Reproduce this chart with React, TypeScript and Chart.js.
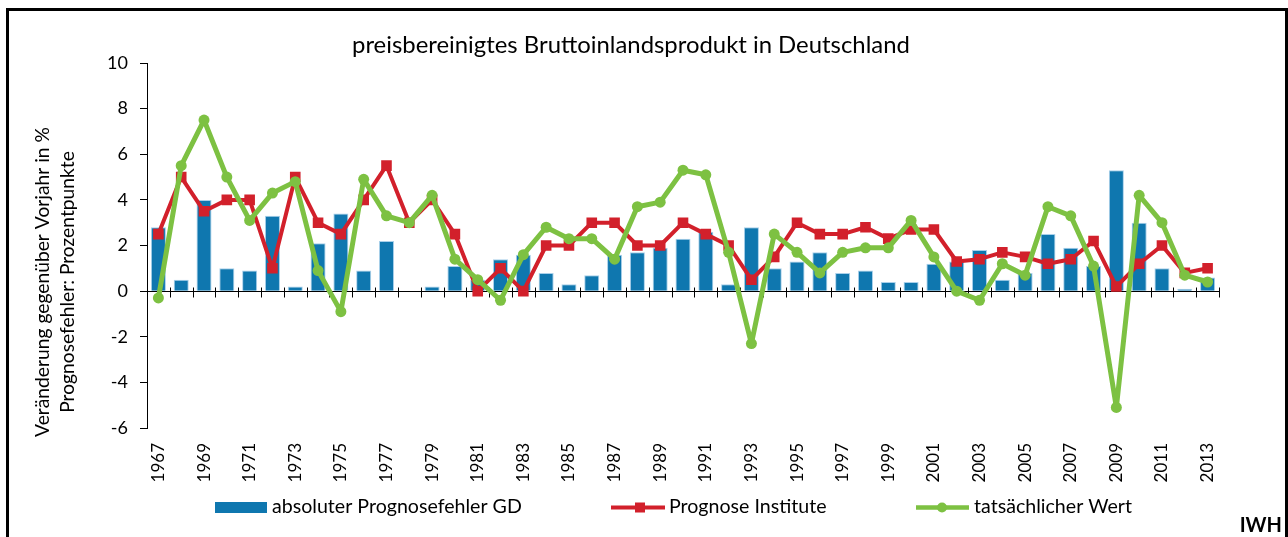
import React, { useEffect, useRef } from "react";
import { Chart, registerables } from "chart.js";

Chart.register(...registerables);

const years = [
  "1967", "1968", "1969", "1970", "1971", "1972", "1973", "1974", "1975", "1976",
  "1977", "1978", "1979", "1980", "1981", "1982", "1983", "1984", "1985", "1986",
  "1987", "1988", "1989", "1990", "1991", "1992", "1993", "1994", "1995", "1996",
  "1997", "1998", "1999", "2000", "2001", "2002", "2003", "2004", "2005", "2006",
  "2007", "2008", "2009", "2010", "2011", "2012", "2013",
];

const errorGD = [
  2.8, 0.5, 4.0, 1.0, 0.9, 3.3, 0.2, 2.1, 3.4, 0.9, 2.2, 0.0, 0.2,
  1.1, 0.5, 1.4, 1.6, 0.8, 0.3, 0.7, 1.6, 1.7, 1.9, 2.3, 2.6, 0.3,
  2.8, 1.0, 1.3, 1.7, 0.8, 0.9, 0.4, 0.4, 1.2, 1.3, 1.8, 0.5,
  0.8, 2.5, 1.9, 1.1, 5.3, 3.0, 1.0, 0.1, 0.6,
];

const forecastInstitutes = [
  2.5, 5.0, 3.5, 4.0, 4.0, 1.0, 5.0, 3.0, 2.5, 4.0, 5.5, 3.0, 4.0,
  2.5, 0.0, 1.0, 0.0, 2.0, 2.0, 3.0, 3.0, 2.0, 2.0, 3.0, 2.5, 2.0,
  0.5, 1.5, 3.0, 2.5, 2.5, 2.8, 2.3, 2.7, 2.7, 1.3, 1.4, 1.7,
  1.5, 1.2, 1.4, 2.2, 0.2, 1.2, 2.0, 0.8, 1.0,
];

const actualValue = [
  -0.3, 5.5, 7.5, 5.0, 3.1, 4.3, 4.8, 0.9, -0.9, 4.9, 3.3, 3.0, 4.2,
  1.4, 0.5, -0.4, 1.6, 2.8, 2.3, 2.3, 1.4, 3.7, 3.9, 5.3, 5.1, 1.7,
  -2.3, 2.5, 1.7, 0.8, 1.7, 1.9, 1.9, 3.1, 1.5, 0.0, -0.4, 1.2,
  0.7, 3.7, 3.3, 1.1, -5.1, 4.2, 3.0, 0.7, 0.4,
];

const yTicks = [-6, -4, -2, 0, 2, 4, 6, 8, 10];

const titleText = "preisbereinigtes Bruttoinlandsprodukt in Deutschland";
const yTitleLines = ["Veränderung gegenüber Vorjahr in %", "Prognosefehler: Prozentpunkte"];
const legendLabels = ["absoluter Prognosefehler GD", "Prognose Institute", "tatsächlicher Wert"];
const sourceText = "IWH";

const BLUE = "#0F77AF";
const RED = "#D2202B";
const GREEN = "#7DC142";
const FONT = "Lato";

function fitSize(ctx: CanvasRenderingContext2D, text: string, width: number, weight = "normal") {
  ctx.font = `${weight} 100px ${FONT}`;
  const w = ctx.measureText(text).width;
  return (100 * width) / w;
}

const customPlugin = {
  id: "customDecor",
  beforeDatasetsDraw(chart: any) {
    const { ctx, chartArea, scales } = chart;
    const y0 = Math.round(scales.y.getPixelForValue(0)) + 0.5;
    const n = years.length;
    ctx.save();
    ctx.strokeStyle = "#000";
    ctx.lineWidth = 1;
    ctx.beginPath();
    ctx.moveTo(chartArea.left, y0);
    ctx.lineTo(chartArea.right, y0);
    for (let i = 0; i <= n; i++) {
      const x = Math.round(chartArea.left + (i * (chartArea.right - chartArea.left)) / n) + 0.5;
      ctx.moveTo(x, y0 - 4);
      ctx.lineTo(x, y0 + 6);
    }
    ctx.stroke();
    ctx.restore();
  },
  afterDraw(chart: any) {
    const { ctx } = chart;
    ctx.save();
    ctx.fillStyle = "#000";

    // Title
    const ts = fitSize(ctx, titleText, 558);
    ctx.font = `normal ${ts}px ${FONT}`;
    ctx.textAlign = "left";
    ctx.textBaseline = "alphabetic";
    ctx.fillText(titleText, 352, 53);

    // Y axis title (two lines)
    const ys = fitSize(ctx, yTitleLines[0], 310);
    ctx.font = `normal ${ys}px ${FONT}`;
    ctx.textAlign = "center";
    ctx.textBaseline = "middle";
    const xs = [43, 68];
    yTitleLines.forEach((line, i) => {
      ctx.save();
      ctx.translate(xs[i], 282);
      ctx.rotate(-Math.PI / 2);
      ctx.fillText(line, 0, 0);
      ctx.restore();
    });

    // Legend
    const ls = fitSize(ctx, legendLabels[0], 250);
    ctx.font = `normal ${ls}px ${FONT}`;
    ctx.textAlign = "left";
    ctx.textBaseline = "alphabetic";
    const ly = 507.5;
    ctx.fillStyle = BLUE;
    ctx.fillRect(215, 502, 52, 11);
    ctx.fillStyle = "#000";
    ctx.fillText(legendLabels[0], 272, 513);
    ctx.strokeStyle = RED;
    ctx.lineWidth = 4;
    ctx.beginPath();
    ctx.moveTo(611, ly);
    ctx.lineTo(665, ly);
    ctx.stroke();
    ctx.fillStyle = RED;
    ctx.fillRect(635, ly - 5, 10, 10);
    ctx.fillStyle = "#000";
    ctx.fillText(legendLabels[1], 669, 513);
    ctx.strokeStyle = GREEN;
    ctx.lineWidth = 4.5;
    ctx.beginPath();
    ctx.moveTo(916, ly);
    ctx.lineTo(969, ly);
    ctx.stroke();
    ctx.fillStyle = GREEN;
    ctx.beginPath();
    ctx.arc(942, ly, 5, 0, Math.PI * 2);
    ctx.fill();
    ctx.fillStyle = "#000";
    ctx.fillText(legendLabels[2], 974, 513);

    // Source
    ctx.font = `bold 20px ${FONT}`;
    ctx.textAlign = "right";
    ctx.fillText(sourceText, 1282, 532);

    ctx.restore();
  },
};

export default function App() {
  const canvasRef = useRef<HTMLCanvasElement | null>(null);

  useEffect(() => {
    if (!canvasRef.current) return;
    const chart = new Chart(canvasRef.current, {
      type: "bar",
      data: {
        labels: years,
        datasets: [
          {
            type: "line",
            label: legendLabels[2],
            data: actualValue,
            borderColor: GREEN,
            backgroundColor: GREEN,
            borderWidth: 5,
            borderJoinStyle: "round",
            borderCapStyle: "round",
            pointStyle: "circle",
            pointRadius: 5.5,
            pointBorderWidth: 0,
            tension: 0,
            order: 0,
          } as any,
          {
            type: "line",
            label: legendLabels[1],
            data: forecastInstitutes,
            borderColor: RED,
            backgroundColor: RED,
            borderWidth: 4,
            borderJoinStyle: "round",
            borderCapStyle: "round",
            pointStyle: "rect",
            pointRadius: 7.5,
            pointBorderWidth: 0,
            tension: 0,
            order: 1,
          } as any,
          {
            type: "bar",
            label: legendLabels[0],
            data: errorGD,
            backgroundColor: BLUE,
            borderColor: "#A9D0EA",
            borderWidth: 1,
            barPercentage: 0.66,
            categoryPercentage: 1,
            order: 2,
          } as any,
        ],
      },
      options: {
        responsive: false,
        animation: false,
        layout: { padding: { top: 63, right: 69, left: 0, bottom: 0 } },
        plugins: {
          legend: { display: false },
          title: { display: false },
          tooltip: { enabled: false },
        },
        scales: {
          x: {
            type: "category",
            offset: true,
            grid: { display: false, drawTicks: false },
            border: { display: false },
            ticks: {
              autoSkip: false,
              maxRotation: 90,
              minRotation: 90,
              padding: 15,
              color: "#000",
              font: { family: FONT, size: 17 },
              callback: (_v: any, i: number) => (i % 2 === 0 ? years[i] : ""),
            },
            afterFit: (s: any) => {
              s.height = 109;
            },
          },
          y: {
            min: yTicks[0],
            max: yTicks[yTicks.length - 1],
            afterBuildTicks: (s: any) => {
              s.ticks = yTicks.map((v) => ({ value: v }));
            },
            ticks: {
              padding: 12,
              color: "#000",
              font: { family: FONT, size: 18 },
            },
            grid: {
              drawOnChartArea: false,
              drawTicks: true,
              tickLength: 7,
              color: "#000",
            },
            border: { display: true, color: "#000", width: 1 },
            afterFit: (s: any) => {
              s.width = 147;
            },
          },
        },
      } as any,
      plugins: [customPlugin],
    });
    return () => chart.destroy();
  }, []);

  return (
    <div style={{ position: "fixed", left: 0, top: 0, width: 1288, height: 537, background: "#fff" }}>
      <canvas ref={canvasRef} width={1288} height={537} style={{ display: "block" }} />
      <div
        style={{
          position: "fixed",
          left: 6,
          top: 8,
          right: 0,
          height: 540,
          border: "3px solid #000",
          boxSizing: "border-box",
          pointerEvents: "none",
        }}
      />
    </div>
  );
}
